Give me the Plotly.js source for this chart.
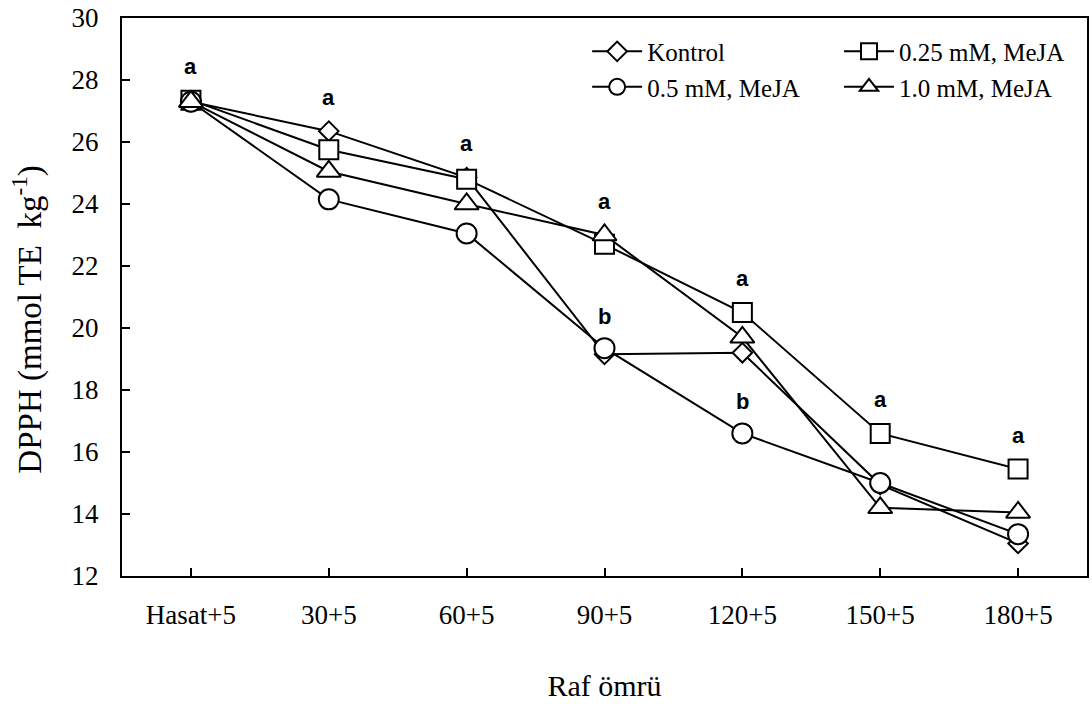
<!DOCTYPE html>
<html>
<head>
<meta charset="utf-8">
<script src="https://cdn.plot.ly/plotly-3.0.1.min.js"></script>
<style>
  html, body { margin: 0; padding: 0; background: #fff; }
  #chart { width: 1092px; height: 709px; }
</style>
</head>
<body>
<div id="chart"></div>
<script>
// Storage periods (days after harvest + 5 days shelf)
const periods = ['Hasat+5', '30+5', '60+5', '90+5', '120+5', '150+5', '180+5'];

// DPPH antioxidant activity, mmol TE kg-1
const kontrol  = [27.30, 26.35, 24.85, 19.15, 19.20, 14.95, 13.05];
const meja025  = [27.35, 25.75, 24.80, 22.70, 20.50, 16.60, 15.45];
const meja05   = [27.30, 24.15, 23.05, 19.35, 16.60, 15.00, 13.35];
const meja10   = [27.30, 25.05, 24.00, 23.00, 19.70, 14.20, 14.05];

// Significance letters: upper row above the highest mark, lower row above 0.5 mM
const lettersTop = ['a', 'a', 'a', 'a', 'a', 'a', 'a'];
const lettersLow = ['', '', '', 'b', 'b', '', ''];

const serif = 'Times New Roman, Liberation Serif, serif';
const black = '#000000';

function series(name, values, symbol, size, legendId) {
  return {
    type: 'scatter',
    mode: 'lines+markers',
    name: name,
    x: periods,
    y: values,
    legend: legendId,
    line: { color: black, width: 2 },
    marker: { symbol: symbol, size: size, color: '#ffffff',
              line: { color: black, width: 2 } },
    cliponaxis: false,
    hoverinfo: 'x+y+name'
  };
}

const traces = [
  series('Kontrol', kontrol, 'diamond', 15, 'legend'),
  series('0.25 mM, MeJA', meja025, 'square', 19, 'legend2'),
  series('0.5 mM, MeJA', meja05, 'circle', 20, 'legend'),
  series('1.0 mM, MeJA', meja10, 'triangle-up', 21, 'legend2')
];

const letterFont = { family: 'Arial, Liberation Sans, sans-serif', size: 22, color: black };
const annotations = [];
periods.forEach((p, i) => {
  const top = Math.max(kontrol[i], meja025[i], meja05[i], meja10[i]);
  if (lettersTop[i]) {
    annotations.push({ x: p, y: top, xref: 'x', yref: 'y', text: '<b>' + lettersTop[i] + '</b>',
      showarrow: false, yshift: 34, font: letterFont });
  }
  if (lettersLow[i]) {
    annotations.push({ x: p, y: meja05[i], xref: 'x', yref: 'y', text: '<b>' + lettersLow[i] + '</b>',
      showarrow: false, yshift: 32, font: letterFont });
  }
});

// Vertical axis title
annotations.push({
  xref: 'paper', yref: 'paper', x: -0.122, y: 0.459,
  text: 'DPPH (mmol TE&nbsp; kg<sup>-1</sup>)', textangle: -90, showarrow: false,
  font: { family: serif, size: 33, color: black }
});

const legendBase = {
  orientation: 'v',
  bgcolor: 'rgba(0,0,0,0)',
  borderwidth: 0,
  font: { family: serif, size: 25, color: black },
  xanchor: 'left', yanchor: 'top',
  tracegroupgap: 0,
  itemwidth: 50
};

const layout = {
  width: 1092,
  height: 709,
  margin: { l: 122, r: 5, t: 18, b: 133 },
  paper_bgcolor: '#ffffff',
  plot_bgcolor: '#ffffff',
  showlegend: true,
  legend: Object.assign({}, legendBase, { x: 0.482, y: 0.981 }),
  legend2: Object.assign({}, legendBase, { x: 0.743, y: 0.981 }),
  xaxis: {
    type: 'category',
    categoryorder: 'array',
    categoryarray: periods,
    range: [-0.5, 6.5],
    showline: true, mirror: true, linecolor: black, linewidth: 2,
    showgrid: false, zeroline: false,
    ticks: 'inside', ticklen: 8, tickwidth: 2, tickcolor: black,
    ticklabelstandoff: 14,
    tickfont: { family: serif, size: 27, color: black },
    title: { text: 'Raf ömrü', standoff: 46, font: { family: serif, size: 30, color: black } }
  },
  yaxis: {
    range: [12, 30],
    dtick: 2,
    showline: true, mirror: true, linecolor: black, linewidth: 2,
    showgrid: false, zeroline: false,
    ticks: 'inside', ticklen: 8, tickwidth: 2, tickcolor: black,
    ticklabelstandoff: 16,
    tickfont: { family: serif, size: 27, color: black }
  },
  annotations: annotations
};

Plotly.newPlot('chart', traces, layout, { displayModeBar: false, staticPlot: true });
</script>
</body>
</html>
